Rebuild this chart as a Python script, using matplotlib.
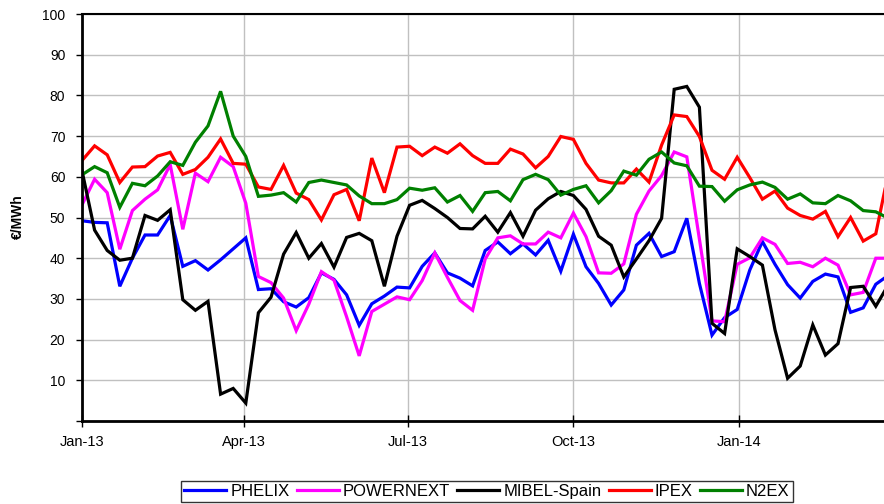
import matplotlib
matplotlib.use("Agg")
import matplotlib.pyplot as plt
import matplotlib.dates as mdates
import pandas as pd

plt.rcParams['font.family'] = ['Liberation Sans', 'DejaVu Sans']

# weekly prices, first week starting 1 Jan 2013
weeks = pd.date_range('2013-01-01', periods=65, freq='7D')
quarter_ticks = pd.to_datetime(['2013-01-01', '2013-04-01', '2013-07-01',
                                '2013-10-01', '2014-01-01'])

phelix = [49.2, 48.8, 48.7, 33.1, 40.0, 45.7, 45.7, 50.5, 38.0, 39.4,
          37.1, 39.6, 42.3, 45.0, 32.3, 32.5, 29.3, 28.0, 30.3, 36.4,
          34.8, 31.0, 23.5, 28.8, 30.7, 32.9, 32.7, 38.0, 41.3, 36.4,
          35.1, 33.2, 41.9, 44.0, 41.1, 43.5, 40.8, 44.4, 36.8, 45.9,
          37.9, 33.8, 28.5, 32.2, 43.2, 46.1, 40.4, 41.6, 49.8, 33.8,
          21.1, 25.4, 27.4, 37.1, 44.1, 38.5, 33.5, 30.2, 34.3, 36.1,
          35.4, 26.7, 27.8, 33.6, 35.8]

powernext = [53.1, 59.4, 56.1, 42.2, 51.7, 54.5, 56.8, 63.0, 47.1, 60.9,
             58.8, 64.8, 62.5, 53.5, 35.5, 34.0, 30.2, 22.2, 28.7, 36.7,
             34.6, 25.6, 16.0, 26.9, 28.7, 30.5, 29.8, 34.5, 41.3, 35.3,
             29.6, 27.2, 39.8, 45.0, 45.5, 43.5, 43.5, 46.4, 45.0, 51.1,
             45.3, 36.4, 36.3, 38.6, 50.8, 56.5, 60.3, 66.1, 64.9, 44.7,
             24.6, 24.4, 38.5, 40.1, 45.0, 43.4, 38.7, 39.0, 37.9, 40.0,
             38.3, 31.0, 31.6, 40.0, 40.0]

mibel = [61.5, 46.9, 41.9, 39.5, 40.0, 50.5, 49.3, 51.9, 29.8, 27.2,
         29.4, 6.6, 8.0, 4.4, 26.6, 30.4, 41.0, 46.3, 40.0, 43.6,
         37.8, 45.1, 46.1, 44.3, 33.1, 45.4, 53.0, 54.2, 52.2, 50.0,
         47.3, 47.2, 50.3, 46.4, 51.2, 45.4, 51.8, 54.6, 56.4, 55.4,
         52.0, 45.4, 43.2, 35.4, 39.8, 44.3, 49.8, 81.5, 82.2, 77.1,
         24.0, 21.5, 42.3, 40.4, 38.3, 22.4, 10.5, 13.5, 23.6, 16.2,
         19.0, 32.8, 33.1, 28.2, 33.5]

ipex = [64.0, 67.6, 65.4, 58.6, 62.4, 62.5, 65.1, 66.0, 60.6, 61.8,
        64.8, 69.3, 63.3, 63.1, 57.5, 56.9, 62.8, 56.0, 54.4, 49.4,
        55.6, 56.9, 49.2, 64.6, 56.1, 67.3, 67.5, 65.2, 67.3, 65.8,
        68.1, 65.2, 63.3, 63.3, 66.8, 65.6, 62.2, 65.0, 69.9, 69.2,
        63.3, 59.2, 58.5, 58.5, 61.9, 58.7, 67.8, 75.2, 74.8, 69.9,
        61.6, 59.4, 64.8, 59.8, 54.5, 56.5, 52.3, 50.5, 49.6, 51.5,
        45.3, 50.0, 44.2, 46.0, 61.0]

n2ex = [60.5, 62.5, 61.0, 52.5, 58.4, 57.8, 60.2, 63.7, 62.8, 68.5,
        72.5, 81.0, 70.0, 65.0, 55.2, 55.5, 56.1, 53.8, 58.6, 59.2,
        58.6, 58.0, 55.3, 53.4, 53.4, 54.4, 57.2, 56.7, 57.3, 53.8,
        55.4, 51.5, 56.1, 56.4, 54.1, 59.3, 60.6, 59.3, 55.5, 56.9,
        57.8, 53.6, 56.6, 61.4, 60.4, 64.3, 66.1, 63.4, 62.7, 57.7,
        57.6, 54.0, 56.8, 58.0, 58.7, 57.4, 54.5, 55.8, 53.6, 53.4,
        55.4, 54.1, 51.7, 51.4, 49.8]

series = [("PHELIX", phelix, "#0000ff"),
          ("POWERNEXT", powernext, "#ff00ff"),
          ("MIBEL-Spain", mibel, "#000000"),
          ("IPEX", ipex, "#ff0000"),
          ("N2EX", n2ex, "#008000")]

fig = plt.figure(figsize=(8.84, 5.04), dpi=100)
# axes run past the right edge of the picture, as in the original crop
ax = fig.add_axes([82 / 884, 1 - 421 / 504, 819 / 884, 407 / 504])

for name, vals, col in series:
    ax.plot(weeks, vals, color=col, lw=2.3, label=name, solid_joinstyle='miter')

ax.set_xlim(pd.Timestamp('2013-01-01'), pd.Timestamp('2014-04-01'))
ax.set_ylim(0, 100)

ax.set_xticks(quarter_ticks)
ax.xaxis.set_major_formatter(mdates.DateFormatter('%b-%y'))
ax.set_yticks(range(0, 101, 10))
ax.set_yticklabels([''] + [str(v) for v in range(10, 101, 10)])

ax.tick_params(axis='y', direction='out', length=4, width=1, labelsize=10, pad=8)
ax.tick_params(axis='x', direction='inout', length=8, width=1, labelsize=10.5, pad=6)

ax.grid(True, color='#c0c0c0', lw=1)
ax.set_axisbelow(True)

for side in ['left', 'bottom']:
    ax.spines[side].set_linewidth(2)
ax.spines['top'].set_linewidth(1.5)
ax.spines['right'].set_visible(False)

fig.text(18 / 884, 1 - 217 / 504, '€/MWh', rotation=90, fontsize=10,
         fontweight='bold', ha='center', va='center')

leg = fig.legend(loc='lower center', bbox_to_anchor=(487 / 884, 0.0), ncol=5,
                 fontsize=12, frameon=True, fancybox=False, handlelength=2.5,
                 handletextpad=0.25, columnspacing=0.45, borderpad=0.2,
                 borderaxespad=0.1)
leg.get_frame().set_edgecolor('black')
leg.get_frame().set_linewidth(1)

fig.savefig('out.png', dpi=100)
